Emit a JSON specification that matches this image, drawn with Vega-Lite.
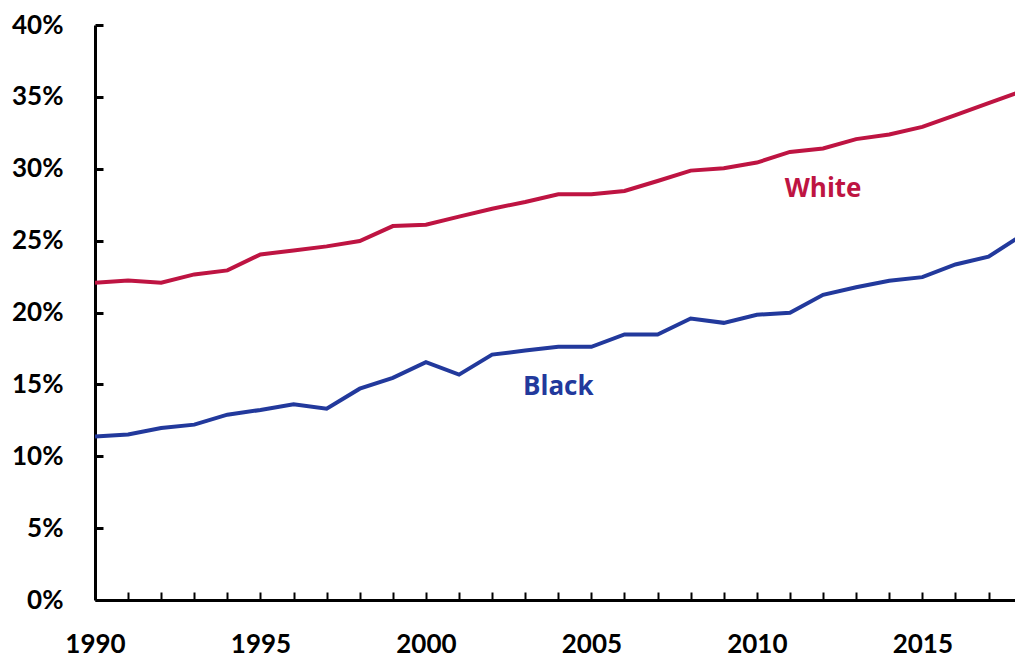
{
  "$schema": "https://vega.github.io/schema/vega-lite/v6.json",
  "width": 920,
  "height": 575,
  "autosize": {"type": "none"},
  "padding": {"left": 95, "top": 25, "right": 0, "bottom": 57},
  "background": "white",
  "config": {
    "view": {"stroke": null},
    "font": "Lato"
  },
  "datasets": {
    "series": [
      {"year": 1990, "race": "White", "share": 0.2207},
      {"year": 1991, "race": "White", "share": 0.2223},
      {"year": 1992, "race": "White", "share": 0.2207},
      {"year": 1993, "race": "White", "share": 0.2265},
      {"year": 1994, "race": "White", "share": 0.2293},
      {"year": 1995, "race": "White", "share": 0.2404},
      {"year": 1996, "race": "White", "share": 0.2432},
      {"year": 1997, "race": "White", "share": 0.2460},
      {"year": 1998, "race": "White", "share": 0.2497},
      {"year": 1999, "race": "White", "share": 0.2601},
      {"year": 2000, "race": "White", "share": 0.2611},
      {"year": 2001, "race": "White", "share": 0.2667},
      {"year": 2002, "race": "White", "share": 0.2722},
      {"year": 2003, "race": "White", "share": 0.2769},
      {"year": 2004, "race": "White", "share": 0.2822},
      {"year": 2005, "race": "White", "share": 0.2822},
      {"year": 2006, "race": "White", "share": 0.2845},
      {"year": 2007, "race": "White", "share": 0.2915},
      {"year": 2008, "race": "White", "share": 0.2987},
      {"year": 2009, "race": "White", "share": 0.3003},
      {"year": 2010, "race": "White", "share": 0.3043},
      {"year": 2011, "race": "White", "share": 0.3117},
      {"year": 2012, "race": "White", "share": 0.3141},
      {"year": 2013, "race": "White", "share": 0.3206},
      {"year": 2014, "race": "White", "share": 0.3238},
      {"year": 2015, "race": "White", "share": 0.3291},
      {"year": 2016, "race": "White", "share": 0.3373},
      {"year": 2017, "race": "White", "share": 0.3456},
      {"year": 2018, "race": "White", "share": 0.3539},
      {"year": 1990, "race": "Black", "share": 0.1138},
      {"year": 1991, "race": "Black", "share": 0.1152},
      {"year": 1992, "race": "Black", "share": 0.1196},
      {"year": 1993, "race": "Black", "share": 0.1220},
      {"year": 1994, "race": "Black", "share": 0.1289},
      {"year": 1995, "race": "Black", "share": 0.1322},
      {"year": 1996, "race": "Black", "share": 0.1361},
      {"year": 1997, "race": "Black", "share": 0.1331},
      {"year": 1998, "race": "Black", "share": 0.1470},
      {"year": 1999, "race": "Black", "share": 0.1545},
      {"year": 2000, "race": "Black", "share": 0.1654},
      {"year": 2001, "race": "Black", "share": 0.1568},
      {"year": 2002, "race": "Black", "share": 0.1707},
      {"year": 2003, "race": "Black", "share": 0.1735},
      {"year": 2004, "race": "Black", "share": 0.1761},
      {"year": 2005, "race": "Black", "share": 0.1761},
      {"year": 2006, "race": "Black", "share": 0.1847},
      {"year": 2007, "race": "Black", "share": 0.1847},
      {"year": 2008, "race": "Black", "share": 0.1958},
      {"year": 2009, "race": "Black", "share": 0.1928},
      {"year": 2010, "race": "Black", "share": 0.1984},
      {"year": 2011, "race": "Black", "share": 0.1998},
      {"year": 2012, "race": "Black", "share": 0.2123},
      {"year": 2013, "race": "Black", "share": 0.2176},
      {"year": 2014, "race": "Black", "share": 0.2221},
      {"year": 2015, "race": "Black", "share": 0.2246},
      {"year": 2016, "race": "Black", "share": 0.2334},
      {"year": 2017, "race": "Black", "share": 0.2388},
      {"year": 2018, "race": "Black", "share": 0.2537}
    ],
    "labels": [
      {"year": 2012.0, "share": 0.2857, "race": "White"},
      {"year": 2004.0, "share": 0.1484, "race": "Black"}
    ]
  },
  "resolve": {"axis": {"x": "independent"}},
  "layer": [
    {
      "data": {"name": "series"},
      "mark": {"type": "line", "strokeWidth": 4, "clip": true},
      "encoding": {
        "x": {
          "field": "year", "type": "quantitative",
          "scale": {"domain": [1990, 2017.8], "nice": false, "zero": false},
          "axis": {
            "orient": "bottom",
            "title": null,
            "values": [1990, 1995, 2000, 2005, 2010, 2015],
            "format": "d",
            "grid": false,
            "domainColor": "black",
            "domainWidth": 3,
            "ticks": false,
            "labelPadding": 31,
            "labelFont": "Lato",
            "labelFontSize": 26,
            "labelFontWeight": "bold",
            "labelColor": "black",
            "labelFlush": false,
            "labelOverlap": false
          }
        },
        "y": {
          "field": "share", "type": "quantitative",
          "scale": {"domain": [0, 0.4], "nice": false},
          "axis": {
            "title": null,
            "values": [0, 0.05, 0.1, 0.15, 0.2, 0.25, 0.3, 0.35, 0.4],
            "format": ".0%",
            "grid": false,
            "domainColor": "black",
            "domainWidth": 3,
            "tickColor": "black",
            "tickWidth": 3,
            "tickSize": -8,
            "labelPadding": 40,
            "labelFont": "Lato",
            "labelFontSize": 26,
            "labelFontWeight": "bold",
            "labelColor": "black",
            "labelOverlap": false
          }
        },
        "color": {
          "field": "race", "type": "nominal",
          "scale": {"domain": ["White", "Black"], "range": ["#BE1442", "#22399C"]},
          "legend": null
        }
      }
    },
    {
      "data": {"name": "labels"},
      "mark": {"type": "text", "font": "Open Sans", "fontSize": 26, "fontWeight": "bold", "align": "center", "baseline": "middle"},
      "encoding": {
        "x": {
          "field": "year", "type": "quantitative",
          "axis": {
            "orient": "bottom",
            "title": null,
            "values": [1991, 1992, 1993, 1994, 1995, 1996, 1997, 1998, 1999, 2000, 2001, 2002, 2003, 2004, 2005, 2006, 2007, 2008, 2009, 2010, 2011, 2012, 2013, 2014, 2015, 2016, 2017],
            "labels": false,
            "domain": false,
            "grid": false,
            "tickColor": "black",
            "tickWidth": 2,
            "tickSize": -8
          }
        },
        "y": {"field": "share", "type": "quantitative"},
        "text": {"field": "race"},
        "color": {"field": "race", "type": "nominal", "legend": null}
      }
    }
  ]
}
